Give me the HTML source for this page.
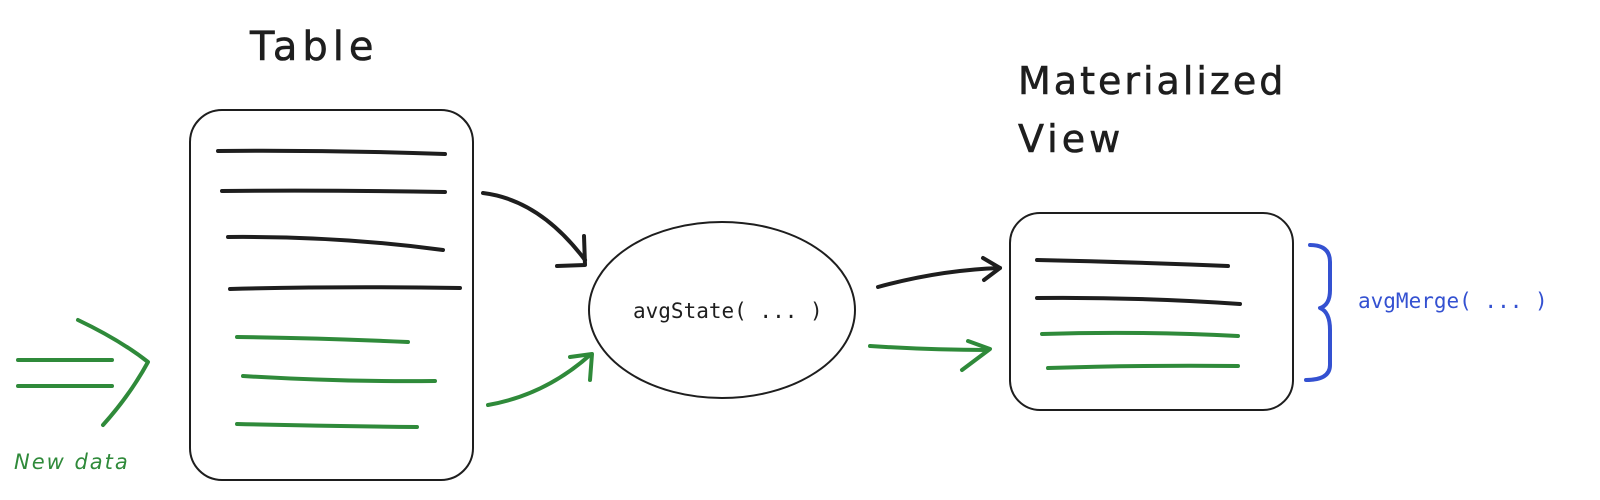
<!DOCTYPE html>
<html><head><meta charset="utf-8"><style>
html,body{margin:0;padding:0;background:#fff;}
svg{display:block}
.hand{font-family:"DejaVu Sans","Liberation Sans",sans-serif;font-weight:normal}
.mono{font-family:"DejaVu Sans Mono","Liberation Mono",monospace}
</style></head><body>
<svg width="1600" height="500" viewBox="0 0 1600 500" xmlns="http://www.w3.org/2000/svg">
<g fill="none" stroke-linecap="round" stroke-linejoin="round">
<rect x="190" y="110" width="283" height="370" rx="32" stroke="#1e1e1e" stroke-width="2"/>
<g stroke="#1e1e1e" stroke-width="4">
<path d="M218 151 Q330 150 445 154"/>
<path d="M222 191 Q330 190 445 192"/>
<path d="M228 237 Q340 236 443 250"/>
<path d="M230 289 Q340 286 460 288"/>
</g>
<g stroke="#2f8a3a" stroke-width="4">
<path d="M237 337 Q320 338 408 342"/>
<path d="M243 376 Q340 382 435 381"/>
<path d="M237 424 Q320 426 417 427"/>
<path d="M18 360 L112 360"/>
<path d="M18 386 L112 386"/>
<path d="M78 320 Q120 340 148 362 Q130 395 103 425"/>
<path d="M488 405 Q545 395 590 355"/>
<path d="M570 357 L592 354 L590 380"/>
<path d="M870 346 Q930 350 988 350"/>
<path d="M968 341 L990 349 L962 370"/>
<path d="M1042 334 Q1140 331 1238 336"/>
<path d="M1048 368 Q1140 365 1238 366"/>
</g>
<g stroke="#1e1e1e" stroke-width="4">
<path d="M483 193 Q540 200 585 260"/>
<path d="M557 266 L585 265 L584 236"/>
<path d="M878 287 Q940 270 1000 268"/>
<path d="M983 258 L1000 268 L984 280"/>
<path d="M1037 260 Q1130 262 1228 266"/>
<path d="M1037 298 Q1140 297 1240 304"/>
</g>
<ellipse cx="722" cy="310" rx="133" ry="88" stroke="#1e1e1e" stroke-width="2"/>
<rect x="1010" y="213" width="283" height="197" rx="30" stroke="#1e1e1e" stroke-width="2"/>
<path d="M1310 245 Q1330 245 1330 262 L1330 290 Q1330 305 1320 308 Q1330 312 1330 330 L1330 365 Q1330 380 1306 380" stroke="#3451d1" stroke-width="4"/>
</g>
<text x="250" y="60" class="hand" font-size="40" letter-spacing="5" fill="#1e1e1e" stroke="#1e1e1e" stroke-width="0.6">Table</text>
<text x="1018" y="94" class="hand" font-size="38" letter-spacing="3" fill="#1e1e1e" stroke="#1e1e1e" stroke-width="0.6">Materialized</text>
<text x="1018" y="152" class="hand" font-size="38" letter-spacing="4" fill="#1e1e1e" stroke="#1e1e1e" stroke-width="0.6">View</text>
<text x="14" y="469" class="hand" font-size="21" letter-spacing="2" fill="#2f8a3a" font-style="italic">New data</text>
<text x="633" y="318" class="mono" font-size="21" fill="#1e1e1e">avgState( ... )</text>
<text x="1358" y="308" class="mono" font-size="21" fill="#3451d1">avgMerge( ... )</text>
</svg>
</body></html>
